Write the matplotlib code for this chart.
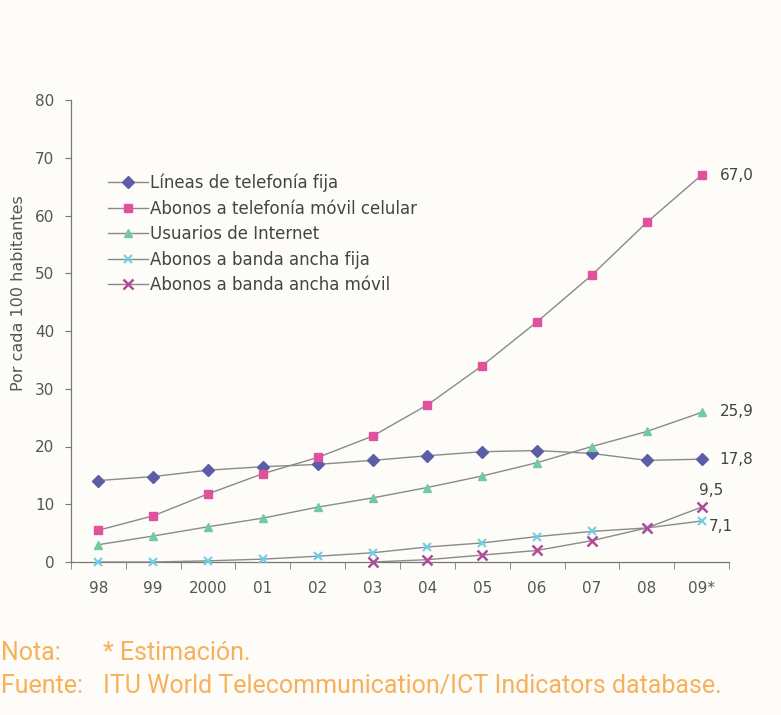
import matplotlib
matplotlib.use("Agg")
import matplotlib.pyplot as plt

years = ["98", "99", "2000", "01", "02", "03", "04", "05", "06", "07", "08", "09*"]
fija = [14.1, 14.8, 15.9, 16.5, 16.9, 17.6, 18.4, 19.1, 19.3, 18.8, 17.6, 17.8]
movil = [5.5, 8.0, 11.8, 15.3, 18.1, 21.8, 27.2, 34.0, 41.6, 49.7, 58.8, 67.0]
internet = [3.0, 4.5, 6.1, 7.6, 9.5, 11.1, 12.9, 14.9, 17.2, 20.0, 22.6, 25.9]
bb_fija = [0.0, 0.0, 0.2, 0.5, 1.0, 1.6, 2.6, 3.3, 4.4, 5.3, 5.9, 7.1]
bb_movil_years = ["03", "04", "05", "06", "07", "08", "09*"]
bb_movil = [0.0, 0.4, 1.2, 2.0, 3.7, 5.9, 9.5]

labels = ["Líneas de telefonía fija", "Abonos a telefonía móvil celular",
          "Usuarios de Internet", "Abonos a banda ancha fija",
          "Abonos a banda ancha móvil"]
end_labels = ["17,8", "67,0", "25,9", "7,1", "9,5"]
yticks = [0, 10, 20, 30, 40, 50, 60, 70, 80]

bg = "#fdfcf9"
txt = "#555555"
fig = plt.figure(figsize=(7.81, 7.15), dpi=100, facecolor=bg)
ax = fig.add_axes([71/781, 1-562/715, (729-71)/781, (562-100)/715])
ax.set_facecolor(bg)

x = list(range(len(years)))
xm = [years.index(y) for y in bb_movil_years]
line_c = "#8a8a8a"
series = [
    (x, fija, "D", "#5b5ea6", 6, 1),
    (x, movil, "s", "#e0529c", 6, 1),
    (x, internet, "^", "#72c9a4", 6, 1),
    (x, bb_fija, "x", "#6ccfe6", 6, 1.5),
    (xm, bb_movil, "x", "#b04a9a", 7, 1.8),
]
handles = []
for (xs, ys, mk, c, ms, mew), lab in zip(series, labels):
    h, = ax.plot(xs, ys, color=line_c, lw=1, marker=mk, ms=ms, mfc=c, mec=c,
                 mew=mew, label=lab, clip_on=False, zorder=3)
    handles.append(h)

ax.set_xlim(-0.5, 11.5)
ax.set_ylim(0, 80)
ax.set_yticks(yticks)
ax.set_xticks(x)
ax.set_xticklabels(years)
ax.set_xticks([i + 0.5 for i in range(-1, 12)], minor=True)
ax.tick_params(axis="x", which="major", length=0, pad=14, labelsize=11, labelcolor=txt)
ax.tick_params(axis="x", which="minor", length=5, color="#777777", direction="out")
ax.tick_params(axis="y", length=4, color="#777777", labelsize=11, labelcolor=txt, pad=8)
for s in ["top", "right"]:
    ax.spines[s].set_visible(False)
for s in ["left", "bottom"]:
    ax.spines[s].set_color("#777777")
    ax.spines[s].set_linewidth(0.9)

fig.text(19/781, 1-293/715, "Por cada 100 habitantes", rotation=90,
         ha="center", va="center", fontsize=11.5, color=txt)

leg = ax.legend(handles=handles, loc="upper left", bbox_to_anchor=(0.046, 0.855),
                frameon=False, fontsize=12, labelcolor="#444444",
                handlelength=2.4, handletextpad=0.15, labelspacing=0.45,
                borderaxespad=0)

# end labels
last_vals = [fija[-1], movil[-1], internet[-1], bb_fija[-1], bb_movil[-1]]
offsets = [(13, 0), (13, 0), (13, 1), (5, -4), (-2, 12)]
for v, lab, (dx, dy) in zip(last_vals, end_labels, offsets):
    ax.annotate(lab, (11, v), xytext=(dx, dy), textcoords="offset points",
                ha="left", va="center", fontsize=11, color="#444444",
                annotation_clip=False)

orange = "#f7b15a"
fam = ["Roboto", "DejaVu Sans"]
fig.text(1/781, 1-653/715, "Nota:", fontsize=18, color=orange, family=fam, va="center")
fig.text(103/781, 1-653/715, "* Estimación.", fontsize=18, color=orange, family=fam, va="center")
fig.text(1/781, 1-686/715, "Fuente:", fontsize=18, color=orange, family=fam, va="center")
fig.text(103/781, 1-686/715, "ITU World Telecommunication/ICT Indicators database.",
         fontsize=18, color=orange, family=fam, va="center")

fig.savefig("out.png", dpi=100, facecolor=bg)
